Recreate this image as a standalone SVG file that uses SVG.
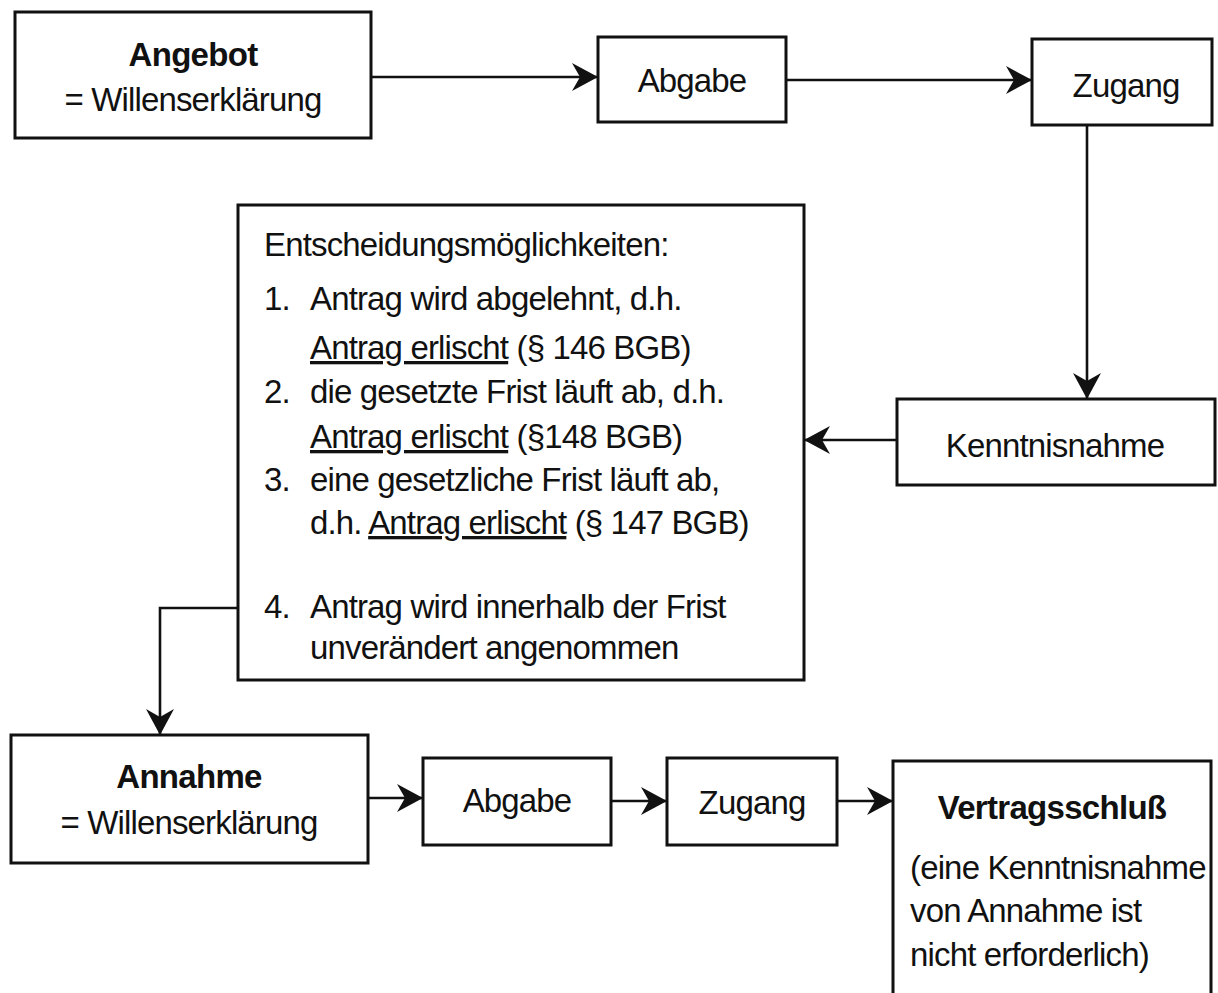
<svg xmlns="http://www.w3.org/2000/svg" width="1218" height="993" viewBox="0 0 1218 993">
<defs>
<style>
.box{fill:#fff;stroke:#111;stroke-width:3}
.t{font-family:"Liberation Sans",Arial,Helvetica,sans-serif;font-size:33px;letter-spacing:-0.85px;fill:#111}
.b{font-weight:bold;letter-spacing:-0.7px}
.c{text-anchor:middle}
.ln{fill:none;stroke:#111;stroke-width:2.6}
.u{text-decoration:underline}
</style>
<marker id="ah" markerUnits="userSpaceOnUse" markerWidth="26" markerHeight="28" viewBox="0 0 26 28" refX="25" refY="14" orient="auto">
<path d="M0,0 L26,14 L0,28 L8,14 Z" fill="#111"/>
</marker>
</defs>
<rect width="1218" height="993" fill="#fff"/>

<g id="connectors">
<line class="ln" x1="372" y1="77" x2="597" y2="77" marker-end="url(#ah)"/>
<line class="ln" x1="787" y1="80" x2="1031" y2="80" marker-end="url(#ah)"/>
<line class="ln" x1="1087" y1="125" x2="1087" y2="398" marker-end="url(#ah)"/>
<line class="ln" x1="897" y1="440" x2="805" y2="440" marker-end="url(#ah)"/>
<polyline class="ln" points="238,608 160,608 160,734" marker-end="url(#ah)"/>
<line class="ln" x1="368" y1="798" x2="422" y2="798" marker-end="url(#ah)"/>
<line class="ln" x1="611" y1="801" x2="666" y2="801" marker-end="url(#ah)"/>
<line class="ln" x1="837" y1="801" x2="892" y2="801" marker-end="url(#ah)"/>
</g>

<g id="angebot">
<rect class="box" x="15" y="12" width="356" height="126"/>
<text class="t b c" x="193" y="66">Angebot</text>
<text class="t c" x="193" y="111">= Willenserklärung</text>
</g>

<g id="abgabe1">
<rect class="box" x="598" y="37" width="188" height="85"/>
<text class="t c" x="692" y="92">Abgabe</text>
</g>

<g id="zugang1">
<rect class="box" x="1032" y="39" width="180" height="86"/>
<text class="t c" x="1126" y="97">Zugang</text>
</g>

<g id="kenntnisnahme">
<rect class="box" x="897" y="399" width="318" height="86"/>
<text class="t c" x="1055" y="457">Kenntnisnahme</text>
</g>

<g id="entscheidung">
<rect class="box" x="238" y="205" width="566" height="475"/>
<text class="t" x="264" y="256">Entscheidungsmöglichkeiten:</text>
<text class="t" x="264" y="310">1.</text>
<text class="t" x="310" y="310">Antrag wird abgelehnt, d.h.</text>
<text class="t" x="310" y="359"><tspan class="u">Antrag erlischt</tspan> (§ 146 BGB)</text>
<text class="t" x="264" y="403">2.</text>
<text class="t" x="310" y="403">die gesetzte Frist läuft ab, d.h.</text>
<text class="t" x="310" y="448"><tspan class="u">Antrag erlischt</tspan> (§148 BGB)</text>
<text class="t" x="264" y="491">3.</text>
<text class="t" x="310" y="491">eine gesetzliche Frist läuft ab,</text>
<text class="t" x="310" y="534">d.h. <tspan class="u">Antrag erlischt</tspan> (§ 147 BGB)</text>
<text class="t" x="264" y="618">4.</text>
<text class="t" x="310" y="618">Antrag wird innerhalb der Frist</text>
<text class="t" x="310" y="659">unverändert angenommen</text>
</g>

<g id="annahme">
<rect class="box" x="11" y="735" width="357" height="128"/>
<text class="t b c" x="189" y="788">Annahme</text>
<text class="t c" x="189" y="834">= Willenserklärung</text>
</g>

<g id="abgabe2">
<rect class="box" x="423" y="758" width="188" height="87"/>
<text class="t c" x="517" y="812">Abgabe</text>
</g>

<g id="zugang2">
<rect class="box" x="667" y="758" width="170" height="87"/>
<text class="t c" x="752" y="814">Zugang</text>
</g>

<g id="vertragsschluss">
<path class="ln" style="stroke-width:3" d="M893,995 L893,761 L1211,761 L1211,995"/>
<text class="t b c" x="1052" y="819">Vertragsschluß</text>
<text class="t" x="910" y="879">(eine Kenntnisnahme</text>
<text class="t" x="910" y="922">von Annahme ist</text>
<text class="t" x="910" y="966">nicht erforderlich)</text>
</g>
</svg>
